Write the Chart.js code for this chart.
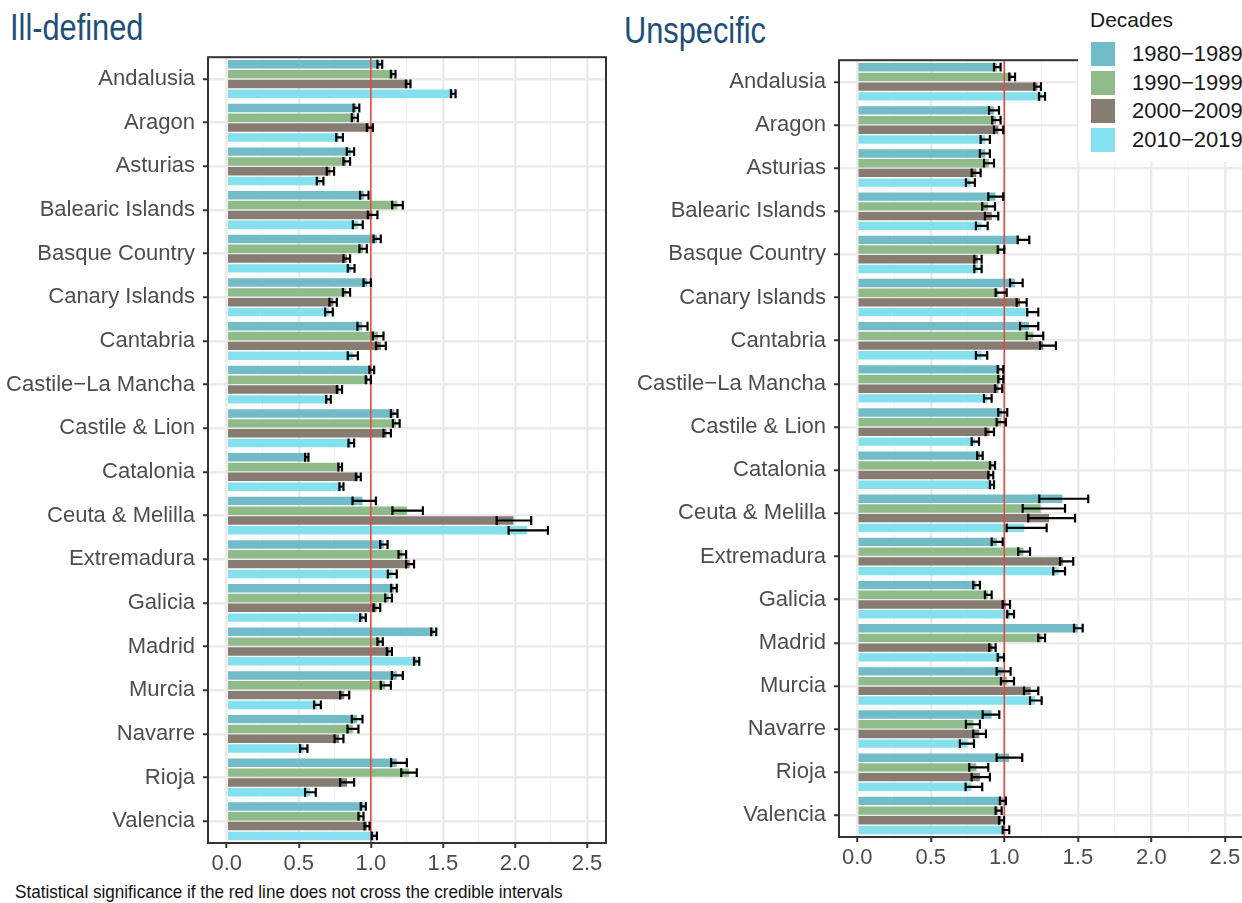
<!DOCTYPE html>
<html>
<head>
<meta charset="utf-8">
<script src="https://cdn.jsdelivr.net/npm/chart.js@4/dist/chart.umd.min.js"></script>
<style>
  html, body { margin: 0; padding: 0; background: #fff; overflow: hidden; width: 1242px; height: 903px; }
  .title { position: absolute; font-family: "Liberation Sans", Arial, sans-serif; font-size: 36px; color: #1f4e79; white-space: nowrap; transform: scaleX(0.855); transform-origin: 0 0; }
  .panel { position: absolute; }
  #legend { position: absolute; left: 1078px; top: 0; width: 170px; height: 162px; background: #fff; font-family: "Liberation Sans", Arial, sans-serif; z-index: 5; }
  #legend .head { position: absolute; left: 12px; top: 8px; font-size: 21px; color: #1a1a1a; }
  #legend .item { position: absolute; left: 13px; width: 160px; height: 25px; }
  #legend .sw { position: absolute; left: 0; top: 0; width: 24px; height: 24px; }
  #legend .lab { position: absolute; left: 41px; top: -1px; font-size: 22px; color: #1a1a1a; white-space: nowrap; }
  #note { position: absolute; left: 15px; top: 881px; font-family: "Liberation Sans", Arial, sans-serif; font-size: 19px; color: #111; white-space: nowrap; transform: scaleX(0.9); transform-origin: 0 0; }
</style>
</head>
<body>
<div class="title" style="left:10px; top:7px;">Ill-defined</div>
<div class="title" style="left:624px; top:10px;">Unspecific</div>
<div class="panel" style="left:0; top:36px; width:612px; height:844px;"><canvas id="illChart"></canvas></div>
<div class="panel" style="left:620px; top:39px; width:630px; height:841px;"><canvas id="unsChart"></canvas></div>
<div id="legend"><div class="head">Decades</div></div>
<div id="note">Statistical significance if the red line does not cross the credible intervals</div>
<script>
const regions = ['Andalusia', 'Aragon', 'Asturias', 'Balearic Islands', 'Basque Country', 'Canary Islands',
  'Cantabria', 'Castile\u2212La Mancha', 'Castile & Lion', 'Catalonia', 'Ceuta & Melilla', 'Extremadura',
  'Galicia', 'Madrid', 'Murcia', 'Navarre', 'Rioja', 'Valencia'];
const decades = ['1980\u22121989', '1990\u22121999', '2000\u22122009', '2010\u22122019'];
const xTicks = [0, 0.25, 0.5, 0.75, 1, 1.25, 1.5, 1.75, 2, 2.25, 2.5];

// Ill-defined: estimates and credible intervals
const ill1980 = [1.06, 0.90, 0.86, 0.955, 1.044, 0.975, 0.94, 1.005, 1.16, 0.555, 0.942, 1.09, 1.16, 1.435, 1.18, 0.905, 1.18, 0.948];
const illCI1980 = [[1.046,1.079],[0.88,0.92],[0.833,0.884],[0.926,0.984],[1.019,1.069],[0.949,1.0],[0.907,0.977],[0.99,1.023],[1.139,1.185],[0.544,0.567],[0.873,1.035],[1.065,1.116],[1.141,1.18],[1.419,1.454],[1.146,1.222],[0.868,0.942],[1.141,1.25],[0.93,0.965]];
const ill1990 = [1.155, 0.89, 0.83, 1.185, 0.947, 0.83, 1.05, 0.98, 1.175, 0.787, 1.25, 1.22, 1.125, 1.065, 1.10, 0.875, 1.265, 0.93];
const illCI1990 = [[1.139,1.171],[0.868,0.91],[0.81,0.856],[1.148,1.222],[0.921,0.972],[0.806,0.856],[1.014,1.088],[0.965,1.0],[1.153,1.2],[0.775,0.8],[1.15,1.361],[1.192,1.245],[1.10,1.146],[1.046,1.083],[1.069,1.139],[0.838,0.914],[1.211,1.319],[0.914,0.949]];
const ill2000 = [1.26, 0.99, 0.72, 1.01, 0.833, 0.74, 1.07, 0.78, 1.11, 0.913, 1.99, 1.27, 1.04, 1.13, 0.815, 0.78, 0.835, 0.973];
const illCI2000 = [[1.243,1.275],[0.972,1.014],[0.694,0.745],[0.979,1.046],[0.81,0.856],[0.713,0.764],[1.037,1.104],[0.764,0.8],[1.088,1.139],[0.896,0.93],[1.873,2.113],[1.245,1.30],[1.019,1.065],[1.111,1.146],[0.787,0.85],[0.748,0.81],[0.787,0.884],[0.956,0.991]];
const ill2010 = [1.57, 0.78, 0.65, 0.91, 0.863, 0.71, 0.875, 0.705, 0.865, 0.795, 2.083, 1.15, 0.945, 1.32, 0.63, 0.535, 0.58, 1.025];
const illCI2010 = [[1.556,1.588],[0.76,0.806],[0.625,0.671],[0.875,0.944],[0.84,0.887],[0.683,0.736],[0.84,0.91],[0.69,0.722],[0.845,0.884],[0.782,0.81],[1.956,2.229],[1.118,1.18],[0.926,0.965],[1.30,1.336],[0.606,0.653],[0.509,0.56],[0.544,0.618],[1.007,1.042]];

// Unspecific: estimates and credible intervals
const uns1980 = [0.95, 0.93, 0.87, 0.94, 1.10, 1.073, 1.168, 0.97, 0.985, 0.835, 1.395, 0.95, 0.81, 1.5, 0.99, 0.914, 1.032, 0.99];
const unsCI1980 = [[0.93,0.975],[0.896,0.964],[0.834,0.902],[0.891,0.993],[1.091,1.17],[1.039,1.125],[1.107,1.231],[0.955,0.993],[0.959,1.02],[0.816,0.853],[1.238,1.571],[0.914,0.989],[0.789,0.834],[1.474,1.533],[0.948,1.043],[0.853,0.966],[0.948,1.122],[0.97,1.011]];
const uns1990 = [1.05, 0.945, 0.895, 0.89, 0.97, 0.96, 1.197, 0.975, 0.98, 0.92, 1.247, 1.13, 0.89, 1.255, 1.02, 0.79, 0.81, 0.96];
const unsCI1990 = [[1.034,1.073],[0.918,0.975],[0.862,0.93],[0.85,0.937],[0.955,1.0],[0.941,1.016],[1.152,1.265],[0.959,0.993],[0.948,1.011],[0.902,0.937],[1.125,1.413],[1.095,1.175],[0.868,0.914],[1.231,1.277],[0.977,1.066],[0.739,0.834],[0.762,0.891],[0.941,0.982]];
const uns2000 = [1.225, 0.96, 0.81, 0.915, 0.82, 1.107, 1.265, 0.96, 0.9, 0.905, 1.304, 1.40, 1.01, 0.92, 1.18, 0.83, 0.834, 0.98];
const unsCI2000 = [[1.204,1.249],[0.93,0.993],[0.778,0.839],[0.868,0.959],[0.796,0.846],[1.084,1.152],[1.243,1.351],[0.937,0.986],[0.873,0.93],[0.891,0.925],[1.163,1.481],[1.379,1.469],[0.989,1.039],[0.898,0.941],[1.134,1.231],[0.789,0.875],[0.778,0.902],[0.964,0.998]];
const uns2010 = [1.255, 0.87, 0.77, 0.845, 0.82, 1.163, 0.846, 0.885, 0.8, 0.915, 1.136, 1.37, 1.04, 0.975, 1.21, 0.75, 0.778, 1.01];
const unsCI2010 = [[1.236,1.277],[0.839,0.902],[0.739,0.80],[0.807,0.887],[0.796,0.846],[1.156,1.231],[0.807,0.884],[0.862,0.914],[0.778,0.828],[0.902,0.93],[1.016,1.288],[1.333,1.413],[1.02,1.066],[0.955,0.998],[1.175,1.254],[0.698,0.794],[0.737,0.85],[0.989,1.034]];

const colors = ['#72bcc7', '#8fbb8b', '#877c72', '#84e0ec'];

// legend (html, sits over the right panel like the original)
const legend = document.getElementById('legend');
decades.forEach((d, i) => {
  const item = document.createElement('div');
  item.className = 'item';
  item.style.top = (42 + i * 28.7) + 'px';
  item.innerHTML = '<div class="sw" style="background:' + colors[i] + '"></div><div class="lab">' + d + '</div>';
  legend.appendChild(item);
});

const isMajor = v => Math.abs(v * 2 - Math.round(v * 2)) < 1e-6;

// red reference line, credible intervals and panel frame
const extrasPlugin = {
  id: 'extras',
  afterDatasetsDraw(chart) {
    const ctx = chart.ctx;
    const area = chart.chartArea;
    const xs = chart.scales.x;
    const refX = xs.getPixelForValue(1);
    ctx.save();
    ctx.strokeStyle = '#e8463e';
    ctx.lineWidth = 1.5;
    ctx.beginPath();
    ctx.moveTo(refX, area.top);
    ctx.lineTo(refX, area.bottom);
    ctx.stroke();

    ctx.strokeStyle = '#000';
    ctx.lineWidth = 2.2;
    chart.data.datasets.forEach((ds, i) => {
      const meta = chart.getDatasetMeta(i);
      meta.data.forEach((bar, j) => {
        const lo = xs.getPixelForValue(ds.ci[j][0]);
        const hi = xs.getPixelForValue(ds.ci[j][1]);
        const h = bar.height * 1.05;
        ctx.beginPath();
        ctx.moveTo(lo, bar.y);
        ctx.lineTo(hi, bar.y);
        ctx.moveTo(lo, bar.y - h / 2);
        ctx.lineTo(lo, bar.y + h / 2);
        ctx.moveTo(hi, bar.y - h / 2);
        ctx.lineTo(hi, bar.y + h / 2);
        ctx.stroke();
      });
    });

    ctx.strokeStyle = '#333';
    ctx.lineWidth = 2;
    ctx.strokeRect(area.left, area.top, area.right - area.left, area.bottom - area.top);
    ctx.restore();
  }
};

function makePanel(canvasId, series, cis, opts) {
  return new Chart(document.getElementById(canvasId), {
    type: 'bar',
    data: {
      labels: regions,
      datasets: series.map((vals, i) => ({
        label: decades[i],
        data: vals,
        ci: cis[i],
        backgroundColor: colors[i],
        borderWidth: 0,
        barPercentage: 0.86,
        categoryPercentage: 0.9
      }))
    },
    options: {
      indexAxis: 'y',
      responsive: true,
      maintainAspectRatio: false,
      animation: false,
      layout: { padding: { top: 0, right: 6, left: 0, bottom: 0 } },
      plugins: { legend: { display: false }, tooltip: { enabled: false } },
      scales: {
        x: {
          min: opts.xMin,
          max: opts.xMax,
          afterBuildTicks: scale => { scale.ticks = xTicks.map(v => ({ value: v })); },
          afterFit: scale => { scale.height = opts.xHeight; },
          border: { display: false },
          grid: {
            color: c => (c.tick && isMajor(c.tick.value)) ? '#ebebeb' : '#f3f3f3',
            lineWidth: c => (c.tick && isMajor(c.tick.value)) ? 2.5 : 1,
            tickColor: c => (c.tick && isMajor(c.tick.value)) ? '#333' : 'rgba(0,0,0,0)',
            tickWidth: 2,
            tickLength: 5
          },
          ticks: {
            autoSkip: false,
            maxRotation: 0,
            padding: 3,
            color: '#4d4d4d',
            font: { family: 'Liberation Sans', size: 22 },
            callback: v => isMajor(v) ? v.toFixed(1) : ''
          }
        },
        y: {
          afterFit: scale => { scale.width = opts.yWidth; },
          border: { display: false },
          grid: {
            offset: false,
            color: '#ebebeb',
            lineWidth: 2.5,
            tickColor: '#333',
            tickWidth: 2,
            tickLength: 5
          },
          ticks: {
            autoSkip: false,
            padding: 8,
            color: '#4d4d4d',
            font: { family: 'Liberation Sans', size: 22 }
          }
        }
      }
    },
    plugins: [extrasPlugin]
  });
}

makePanel('illChart', [ill1980, ill1990, ill2000, ill2010], [illCI1980, illCI1990, illCI2000, illCI2010],
  { xMin: -0.13, xMax: 2.632, yWidth: 208, xHeight: 37 });
makePanel('unsChart', [uns1980, uns1990, uns2000, uns2010], [unsCI1980, unsCI1990, unsCI2000, unsCI2010],
  { xMin: -0.124, xMax: 2.63, yWidth: 219, xHeight: 43 });
</script>
</body>
</html>
